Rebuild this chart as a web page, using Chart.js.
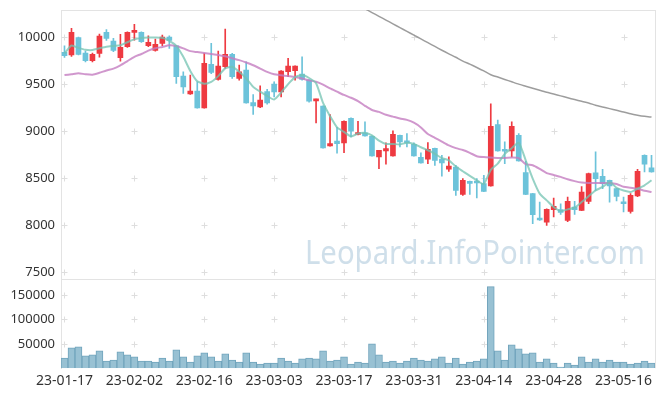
<!DOCTYPE html>
<html>
<head>
<meta charset="utf-8">
<script src="https://cdn.jsdelivr.net/npm/chart.js@4.4.1/dist/chart.umd.min.js"></script>
<style>
    html, body { margin: 0; padding: 0; background: #fff; }
    #wrap { width: 665px; height: 396px; }
</style>
</head>
<body>
<div id="wrap"><canvas id="stockChart"></canvas></div>
<script>
// Trading days (KRX calendar)
const dates = [
    '23-01-17','23-01-18','23-01-19','23-01-20','23-01-25','23-01-26','23-01-27','23-01-30','23-01-31',
    '23-02-01','23-02-02','23-02-03','23-02-06','23-02-07','23-02-08','23-02-09','23-02-10','23-02-13','23-02-14',
    '23-02-15','23-02-16','23-02-17','23-02-20','23-02-21','23-02-22','23-02-23','23-02-24','23-02-27','23-02-28',
    '23-03-02','23-03-03','23-03-06','23-03-07','23-03-08','23-03-09','23-03-10','23-03-13','23-03-14','23-03-15',
    '23-03-16','23-03-17','23-03-20','23-03-21','23-03-22','23-03-23','23-03-24','23-03-27','23-03-28','23-03-29',
    '23-03-30','23-03-31','23-04-03','23-04-04','23-04-05','23-04-06','23-04-07','23-04-10','23-04-11','23-04-12',
    '23-04-13','23-04-14','23-04-17','23-04-18','23-04-19','23-04-20','23-04-21','23-04-24','23-04-25','23-04-26',
    '23-04-27','23-04-28','23-05-02','23-05-03','23-05-04','23-05-08','23-05-09','23-05-10','23-05-11','23-05-12',
    '23-05-15','23-05-16','23-05-17','23-05-18','23-05-19','23-05-22'
];

const openPrices = [
    9837, 9809, 9993, 9830, 9748, 9827, 10050, 9957, 9780, 9897,
    10050, 10050, 9907, 9858, 9933, 10000, 9907, 9585, 9397, 9426,
    9248, 9710, 9550, 9684, 9816, 9560, 9649, 9305, 9259, 9422,
    9500, 9418, 9631, 9642, 9606, 9543, 9323, 9266, 8844, 8894,
    8876, 9138, 8965, 8982, 8947, 8727, 8791, 8737, 8957, 8886,
    8862, 8723, 8702, 8819, 8705, 8596, 8620, 8330, 8468, 8461,
    8443, 8419, 9071, 8798, 8791, 8957, 8560, 8337, 8071, 8035,
    8167, 8167, 8053, 8195, 8160, 8255, 8557, 8521, 8479, 8390,
    8237, 8149, 8312, 8745, 8610
];
const highPrices = [
    9907, 10093, 10000, 9851, 9830, 10032, 10078, 9986, 10028, 10055,
    10135, 10056, 10014, 9979, 10021, 10014, 9910, 9631, 9596, 9525,
    9827, 9933, 9851, 10085, 9827, 9702, 9737, 9390, 9482, 9444,
    9525, 9645, 9773, 9695, 9791, 9548, 9340, 9270, 9177, 9042,
    9110, 9142, 9106, 9099, 8950, 8798, 8876, 9003, 8960, 8975,
    8876, 8770, 8880, 8822, 8745, 8727, 8638, 8497, 8470, 8497,
    8532, 9291, 9117, 8886, 9099, 8975, 8680, 8340, 8248, 8175,
    8291, 8230, 8301, 8255, 8411, 8555, 8780, 8596, 8482, 8393,
    8301, 8337, 8596, 8748, 8745
];
const lowPrices = [
    9784, 9795, 9810, 9737, 9737, 9787, 9965, 9844, 9745, 9890,
    9968, 9944, 9897, 9851, 9907, 9880, 9507, 9401, 9390, 9245,
    9245, 9610, 9543, 9667, 9560, 9543, 9298, 9178, 9250, 9287,
    9365, 9365, 9578, 9543, 9543, 9308, 9088, 8819, 8840, 8766,
    8773, 8939, 8962, 8947, 8734, 8603, 8649, 8734, 8833, 8833,
    8734, 8660, 8656, 8638, 8524, 8574, 8319, 8319, 8330, 8291,
    8359, 8416, 8788, 8656, 8727, 8681, 8327, 8018, 8054, 8000,
    8089, 8117, 8040, 8117, 8157, 8230, 8372, 8390, 8248, 8259,
    8142, 8131, 8305, 8567, 8564
];
const closePrices = [
    9801, 10050, 9816, 9748, 9816, 10011, 9986, 9858, 9890, 10050,
    10060, 9950, 9943, 9922, 10000, 9965, 9578, 9471, 9426, 9248,
    9720, 9624, 9691, 9816, 9578, 9631, 9301, 9269, 9330, 9301,
    9418, 9638, 9691, 9691, 9550, 9319, 9337, 8822, 8869, 8869,
    9106, 9000, 8982, 8950, 8737, 8798, 8816, 8968, 8886, 8876,
    8737, 8663, 8808, 8691, 8663, 8631, 8372, 8479, 8447, 8450,
    8362, 9053, 8791, 8787, 9053, 8684, 8330, 8114, 8057, 8170,
    8202, 8138, 8255, 8167, 8355, 8550, 8497, 8443, 8419, 8309,
    8230, 8319, 8575, 8649, 8567
];
const volumes = [
    21000, 41600, 43700, 25200, 27200, 35500, 14800, 16900, 33400, 27200,
    23100, 14800, 14800, 12800, 21000, 14800, 37500, 23100, 12800, 25200,
    31300, 23100, 14800, 29300, 16900, 12800, 31300, 12800, 8700, 10700,
    10700, 21000, 14800, 10700, 19000, 21000, 19000, 35500, 14800, 16900,
    23100, 8700, 12800, 10700, 49900, 27200, 12800, 14800, 10700, 14800,
    21000, 16900, 14800, 19000, 23100, 10700, 21000, 8700, 12800, 14800,
    19000, 167400, 35500, 16900, 47800, 39600, 29300, 31300, 12800, 19000,
    10700, 2500, 10700, 6600, 23100, 12800, 19000, 12800, 16900, 12800,
    12800, 8700, 10700, 14800, 10700
];

// Moving averages
const ma5 = [
    9826, 9910, 9885, 9865, 9862, 9880, 9897, 9905, 9912, 9945,
    9975, 9990, 9995, 9996, 9992, 9960, 9907, 9790, 9640, 9530,
    9505, 9525, 9585, 9667, 9684, 9631, 9560, 9471, 9420, 9375,
    9337, 9410, 9500, 9575, 9596, 9565, 9510, 9300, 9160, 9040,
    8993, 8945, 8975, 8982, 8957, 8900, 8865, 8865, 8860, 8878,
    8865, 8830, 8798, 8760, 8714, 8691, 8625, 8575, 8525, 8478,
    8440, 8590, 8656, 8760, 8820, 8878, 8691, 8497, 8337, 8266,
    8195, 8152, 8170, 8190, 8248, 8309, 8372, 8408, 8461, 8400,
    8370, 8355, 8390, 8426, 8479
];
const ma20 = [
    9596, 9605, 9615, 9605, 9600, 9620, 9645, 9665, 9700, 9745,
    9790, 9820, 9855, 9880, 9895, 9912, 9905, 9880, 9850, 9840,
    9830, 9820, 9810, 9795, 9775, 9755, 9730, 9700, 9665, 9630,
    9605, 9595, 9585, 9575, 9560, 9540, 9525, 9495, 9455, 9420,
    9385, 9355, 9320, 9270, 9225, 9205, 9175, 9155, 9135, 9120,
    9090, 9040, 8970, 8930, 8890, 8850, 8820, 8800, 8770, 8735,
    8725, 8720, 8716, 8716, 8720, 8715, 8650, 8638, 8600, 8555,
    8535, 8515, 8490, 8470, 8455, 8450, 8450, 8450, 8450, 8440,
    8410, 8400, 8390, 8368, 8355
];
const ma60 = [
    null, null, null, null, null, null, null, null, null, null,
    null, null, null, null, null, null, null, null, null, null,
    null, null, null, null, null, null, null, null, null, null,
    null, null, null, null, null, null, null, null, null, null,
    null, null, 10340, 10300, 10260, 10220, 10180, 10140, 10100, 10060,
    10020, 9980, 9940, 9900, 9860, 9822, 9785, 9745, 9712, 9677,
    9640, 9600, 9575, 9550, 9525, 9500, 9478, 9456, 9434, 9413,
    9395, 9375, 9355, 9336, 9318, 9300, 9275, 9257, 9240, 9222,
    9205, 9185, 9170, 9158, 9150
];

const priceTicks = [7500, 8000, 8500, 9000, 9500, 10000];
const volumeTicks = [50000, 100000, 150000];

const UP_COLOR = '#ee3a41';
const DOWN_COLOR = '#6cc3da';
const LABEL_COLOR = '#333';
const FRAME_COLOR = '#e3e3e3';

// Small "+" marks at tick crossings, panel frame and watermark
const panelDecor = {
    id: 'panelDecor',
    beforeDatasetsDraw(chart) {
        const { ctx, chartArea, scales } = chart;
        ctx.save();

        ctx.font = '33px "Noto Sans"';
        ctx.fillStyle = 'rgba(160,192,214,0.5)';
        ctx.textAlign = 'center';
        ctx.textBaseline = 'alphabetic';
        ctx.fillText('Leopard.InfoPointer.com', chartArea.right - 180, scales.y.bottom - 15, 340);

        ctx.strokeStyle = '#dedede';
        ctx.lineWidth = 1;
        ['y', 'yv'].forEach(id => {
            const scale = scales[id];
            scale.ticks.forEach(t => {
                const y = Math.round(scale.getPixelForValue(t.value)) + 0.5;
                for (let i = 0; i < dates.length; i += 10) {
                    const x = Math.round(scales.x.getPixelForValue(i)) + 0.5;
                    ctx.beginPath();
                    ctx.moveTo(x - 3, y);
                    ctx.lineTo(x + 3, y);
                    ctx.moveTo(x, y - 3);
                    ctx.lineTo(x, y + 3);
                    ctx.stroke();
                }
            });
        });

        ctx.strokeStyle = FRAME_COLOR;
        ctx.beginPath();
        ctx.moveTo(chartArea.left, chartArea.top + 0.5);
        ctx.lineTo(chartArea.right, chartArea.top + 0.5);
        ctx.moveTo(chartArea.right + 0.5, chartArea.top);
        ctx.lineTo(chartArea.right + 0.5, chartArea.bottom);
        ctx.moveTo(chartArea.left, Math.round(scales.y.bottom) + 0.5);
        ctx.lineTo(chartArea.right, Math.round(scales.y.bottom) + 0.5);
        ctx.stroke();
        ctx.restore();
    }
};

const candleColors = closePrices.map((c, i) => c >= openPrices[i] ? UP_COLOR : DOWN_COLOR);

const tickFont = { family: '"Noto Sans", sans-serif', size: 13 };

// Fixed axis width, and no extra room for the end labels
function fixWidth(axis) {
    axis.width = 61;
    axis.paddingTop = 0;
    axis.paddingBottom = 0;
}

new Chart(document.getElementById('stockChart'), {
    type: 'bar',
    data: {
        labels: dates,
        datasets: [
            {
                type: 'line', data: ma5, yAxisID: 'y', order: 0,
                borderColor: 'rgba(115,195,178,0.75)', borderWidth: 2, pointRadius: 0, tension: 0.2
            },
            {
                type: 'line', data: ma20, yAxisID: 'y', order: 0,
                borderColor: 'rgba(196,125,192,0.8)', borderWidth: 2, pointRadius: 0, tension: 0.2
            },
            {
                type: 'line', data: ma60, yAxisID: 'y', order: 0,
                borderColor: 'rgba(140,140,140,0.85)', borderWidth: 1.5, pointRadius: 0, tension: 0.2
            },
            {
                data: lowPrices.map((l, i) => [l, highPrices[i]]), yAxisID: 'y', order: 2,
                backgroundColor: candleColors, barThickness: 1, grouped: false
            },
            {
                data: openPrices.map((o, i) => [o, closePrices[i]]), yAxisID: 'y', order: 1,
                backgroundColor: candleColors, barThickness: 5, grouped: false, minBarLength: 2
            },
            {
                data: volumes, yAxisID: 'yv', order: 1,
                backgroundColor: '#98c1d3', borderColor: '#71a4bc', borderWidth: 1,
                barPercentage: 1, categoryPercentage: 1, grouped: false
            }
        ]
    },
    options: {
        responsive: true,
        maintainAspectRatio: false,
        animation: false,
        layout: { padding: { top: 10, right: 10, bottom: 3, left: 0 } },
        plugins: {
            legend: { display: false },
            tooltip: { enabled: false }
        },
        scales: {
            x: {
                grid: { display: false, drawTicks: false },
                border: { display: false },
                ticks: {
                    autoSkip: false,
                    maxRotation: 0,
                    padding: 4,
                    color: LABEL_COLOR,
                    font: { family: '"Noto Sans", sans-serif', size: 14 },
                    callback: (value, index) => index % 10 === 0 ? dates[index] : ''
                }
            },
            yv: {
                type: 'linear',
                position: 'left',
                stack: 'panes',
                stackWeight: 89.5,
                min: 0,
                max: 184000,
                afterBuildTicks: axis => { axis.ticks = volumeTicks.map(v => ({ value: v })); },
                afterFit: fixWidth,
                grid: { display: false, drawTicks: false },
                border: { display: true, color: FRAME_COLOR },
                ticks: { padding: 6, color: LABEL_COLOR, font: tickFont, callback: v => String(v) }
            },
            y: {
                type: 'linear',
                position: 'left',
                stack: 'panes',
                stackWeight: 268,
                min: 7436,
                max: 10287,
                afterBuildTicks: axis => { axis.ticks = priceTicks.map(v => ({ value: v })); },
                afterFit: fixWidth,
                grid: { display: false, drawTicks: false },
                border: { display: true, color: FRAME_COLOR },
                ticks: { padding: 6, color: LABEL_COLOR, font: tickFont, callback: v => String(v) }
            }
        }
    },
    plugins: [panelDecor]
});
</script>
</body>
</html>
